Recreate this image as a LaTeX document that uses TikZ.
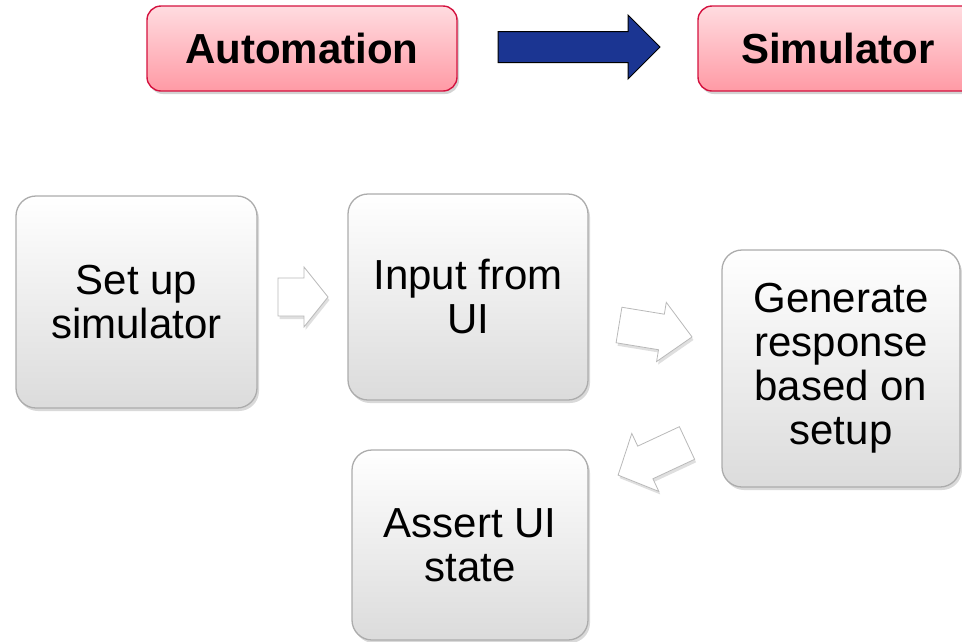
\documentclass[tikz,border=0pt]{standalone}
\usepackage{fontspec}
\setmainfont{Liberation Sans}
\usetikzlibrary{shadows}
\definecolor{pinktop}{RGB}{255,220,224}
\definecolor{pinkbot}{RGB}{255,154,165}
\definecolor{crimson}{RGB}{212,18,63}
\definecolor{navy}{RGB}{27,53,146}
\tikzset{
  titlebox/.style={rectangle, rounded corners=14pt, draw=crimson, line width=1.4pt,
    top color=pinktop, bottom color=pinkbot, font=\fontsize{42}{44}\selectfont\bfseries,
    drop shadow={shadow xshift=2pt, shadow yshift=-3pt, opacity=0.35}, inner sep=0pt},
  graybox/.style={rectangle, rounded corners=20pt, draw=gray!65, line width=1.3pt,
    top color=white, bottom color=gray!28, font=\fontsize{42}{44}\selectfont,
    align=center, inner sep=0pt,
    drop shadow={shadow xshift=2pt, shadow yshift=-3pt, opacity=0.3}},
  whitearrow/.style={fill=white, draw=gray!55, line width=0.8pt, line join=miter,
    drop shadow={shadow xshift=1.5pt, shadow yshift=-3pt, opacity=0.25}},
  bluearrow/.style={fill=navy, draw=black, line width=1pt, line join=miter}
}
% #1 x, #2 y (tail centre), #3 rotation, #4 length, #5 shaft half-width, #6 head half-width, #7 head length, #8 style
\newcommand\blkarrow[8]{%
  \begin{scope}[shift={(#1,#2)}, rotate=#3]
    \draw[#8] (0,-#5) -- (#4-#7,-#5) -- (#4-#7,-#6) -- (#4,0) -- (#4-#7,#6) -- (#4-#7,#5) -- (0,#5) -- cycle;
  \end{scope}}
\begin{document}
\begin{tikzpicture}[x=1pt, y=-1pt]
\useasboundingbox (0,0) rectangle (962,641);
\clip (0,0) rectangle (962,641);

% title boxes
\node[titlebox, minimum width=310pt, minimum height=85pt] (auto) at (302,48.5) {Automation};
\node[titlebox, minimum width=280pt, minimum height=85pt] (sim) at (838,48.5) {Simulator};
\blkarrow{498}{47}{0}{162}{15.5}{32}{32}{bluearrow}

% process boxes
\node[graybox, minimum width=241pt, minimum height=212pt] (setup) at (136.5,302) {Set up\\simulator};
\node[graybox, minimum width=240pt, minimum height=206pt] (input) at (468,297) {Input from\\UI};
\node[graybox, minimum width=238pt, minimum height=237pt] (gen) at (841,368.5) {Generate\\response\\based on\\setup};
\node[graybox, minimum width=236pt, minimum height=190pt] (assert) at (470,545) {Assert UI\\state};

% white block arrows
\blkarrow{278}{297}{0}{50}{19}{30}{24}{whitearrow}
\blkarrow{619}{325}{-9.3}{74}{18}{30}{31}{whitearrow}
\blkarrow{687}{443}{205}{76}{18}{32}{30}{whitearrow}
\end{tikzpicture}
\end{document}
